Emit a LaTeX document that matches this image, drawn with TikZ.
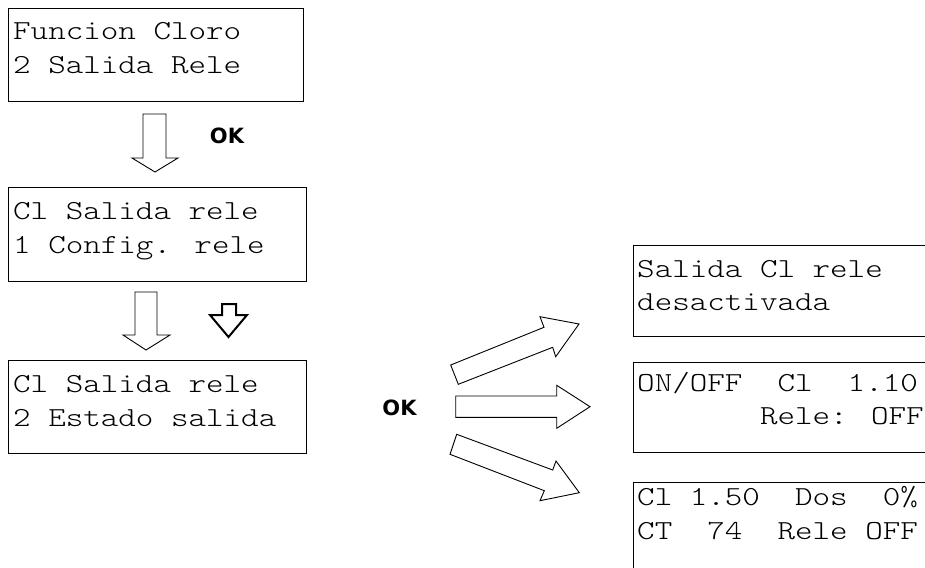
\documentclass[tikz,border=0pt]{standalone}
\usepackage{fontspec}
\newfontfamily\lcdfont{lmmonolt10-regular.otf}
\newfontfamily\okfont{DejaVu Sans}
\newcommand{\lcd}[1]{\scalebox{1.215}[1]{#1}}
\begin{document}
\begin{tikzpicture}[x=1pt,y=-1pt,
  lcd/.style={draw, line width=1.2pt, inner sep=0pt, anchor=north west},
  lcdtext/.style={anchor=base west, inner sep=0pt, font=\lcdfont\fontsize{27.5}{27.5}\selectfont},
  okstyle/.style={font=\okfont\bfseries\fontsize{21}{21}\selectfont, inner sep=0pt},
  blockarrow/.style={draw, line width=0.9pt, fill=white, line join=miter},
  boldarrow/.style={draw, line width=2pt, fill=white, line join=miter}]
\useasboundingbox (0,0) rectangle (925,567);
\clip (0,0) rectangle (925,567);

% left boxes
\node[lcd, minimum width=295pt, minimum height=93pt] (b1) at (8,8) {};
\node[lcdtext] (t1a) at (13,39.5) {\lcd{Funcion Cloro}};
\node[lcdtext] (t1b) at (13,73.5) {\lcd{2 Salida Rele}};

\node[lcd, minimum width=298pt, minimum height=94pt] (b2) at (8,187) {};
\node[lcdtext] (t2a) at (13,219) {\lcd{Cl Salida rele}};
\node[lcdtext] (t2b) at (13,253) {\lcd{1 Config. rele}};

\node[lcd, minimum width=298pt, minimum height=93pt] (b3) at (8,360) {};
\node[lcdtext] (t3a) at (13,392) {\lcd{Cl Salida rele}};
\node[lcdtext] (t3b) at (13,426) {\lcd{2 Estado salida}};

% right boxes (cut by the picture edge)
\node[lcd, minimum width=400pt, minimum height=91pt] (b4) at (633,245) {};
\node[lcdtext] (t4a) at (637,277) {\lcd{Salida Cl rele}};
\node[lcdtext] (t4b) at (637,310) {\lcd{desactivada}};

\node[lcd, minimum width=400pt, minimum height=90pt] (b5) at (633,362) {};
\node[lcdtext] (t5a) at (637,391) {\lcd{ON/OFF\ \ Cl\ \ 1.10}};
\node[lcdtext] (t5b) at (637,424) {\lcd{\ \ \ \ \ \ \ Rele: OFF}};

\node[lcd, minimum width=400pt, minimum height=120pt] (b6) at (633,482) {};
\node[lcdtext] (t6a) at (637,505) {\lcd{Cl 1.50\ \ Dos\ \ 0\%}};
\node[lcdtext] (t6b) at (637,539) {\lcd{CT\ \ 74\ \ Rele OFF}};

% OK labels
\node[okstyle] (ok1) at (227,136) {OK};
\node[okstyle] (ok2) at (399.5,408) {OK};

% down arrows
\draw[blockarrow] (143,114) -- (166,114) -- (166,158) -- (178,158) -- (155,172) -- (132,158) -- (143,158) -- cycle;
\draw[blockarrow] (135,292) -- (157,292) -- (157,335) -- (170,335) -- (146,350) -- (123,335) -- (135,335) -- cycle;
\draw[boldarrow] (222,304) -- (236,304) -- (236,315) -- (247,315) -- (228.5,337) -- (210,315) -- (222,315) -- cycle;

% right arrows
\draw[blockarrow] (450.7,365) -- (544,327.3) -- (540,316.7) -- (579,324) -- (555.7,356.7) -- (552.7,347.3) -- (458.3,384.3) -- cycle;
\draw[blockarrow] (455.7,396) -- (556.7,396) -- (556.7,385.3) -- (590,406.7) -- (556.7,428.3) -- (556.7,417.3) -- (455.7,417.3) -- cycle;
\draw[blockarrow] (456.7,434.3) -- (552.7,470) -- (556,461) -- (579.3,492.7) -- (540,500.7) -- (544.3,490.7) -- (450,454.3) -- cycle;
\end{tikzpicture}
\end{document}
